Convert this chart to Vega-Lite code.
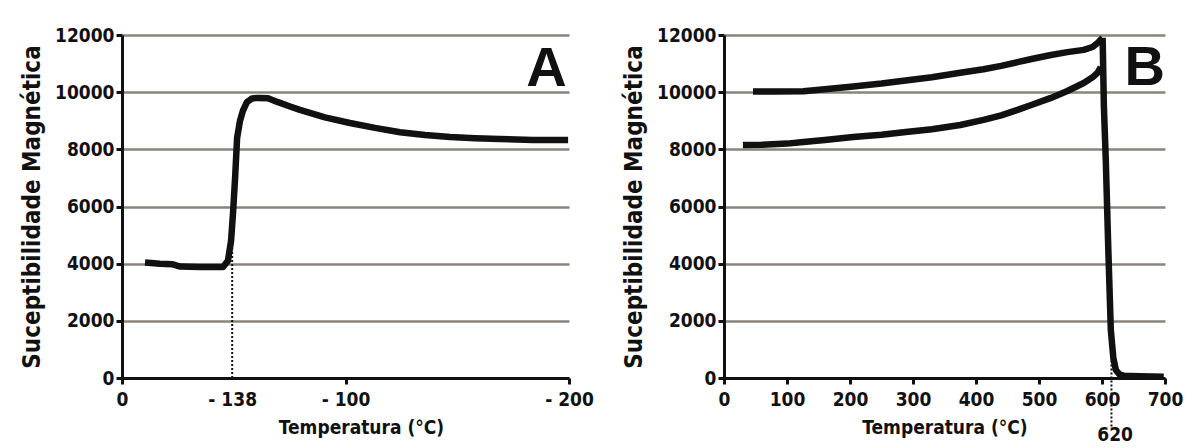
{
  "$schema": "https://vega.github.io/schema/vega-lite/v6.json",
  "background": "white",
  "padding": {"left": 20, "top": 26, "right": 5, "bottom": 5},
  "spacing": 155,
  "bounds": "flush",
  "config": {
    "view": {"stroke": null},
    "axis": {
      "labelFont": "DejaVu Sans Condensed",
      "labelFontWeight": "bold",
      "labelFontSize": 19,
      "labelColor": "#111",
      "titleFont": "DejaVu Sans Condensed",
      "titleFontWeight": "bold",
      "titleFontSize": 24,
      "titleColor": "#111",
      "domainColor": "#111",
      "domainWidth": 3,
      "tickColor": "#111",
      "tickWidth": 3,
      "tickSize": 6,
      "labelPadding": 2,
      "grid": false
    },
    "axisX": {"titleFontSize": 19, "labelPadding": 6}
  },
  "datasets": {
    "a": [
      {"t": 10.3, "k": 4040}, {"t": 17, "k": 4000}, {"t": 22.4, "k": 3980}, {"t": 26, "k": 3900},
      {"t": 35, "k": 3880}, {"t": 45.2, "k": 3880}, {"t": 47.4, "k": 4100}, {"t": 48.8, "k": 4800},
      {"t": 49.7, "k": 5800}, {"t": 50.6, "k": 7000}, {"t": 51.5, "k": 8400}, {"t": 52.8, "k": 9000},
      {"t": 54.1, "k": 9350}, {"t": 55.9, "k": 9650}, {"t": 58.2, "k": 9780}, {"t": 60.9, "k": 9800},
      {"t": 65.3, "k": 9790}, {"t": 69.8, "k": 9650}, {"t": 75.2, "k": 9500}, {"t": 79.6, "k": 9380},
      {"t": 90.8, "k": 9120}, {"t": 102, "k": 8920}, {"t": 113.2, "k": 8750}, {"t": 124.4, "k": 8600},
      {"t": 135.6, "k": 8500}, {"t": 146.8, "k": 8430}, {"t": 158, "k": 8390}, {"t": 169.1, "k": 8360},
      {"t": 183.9, "k": 8330}, {"t": 199.6, "k": 8330}
    ],
    "b": [
      {"run": "heating", "t": 30, "k": 8150}, {"run": "heating", "t": 60, "k": 8160},
      {"run": "heating", "t": 100, "k": 8200}, {"run": "heating", "t": 126, "k": 8260},
      {"run": "heating", "t": 160, "k": 8330}, {"run": "heating", "t": 205, "k": 8430},
      {"run": "heating", "t": 250, "k": 8510}, {"run": "heating", "t": 285, "k": 8600},
      {"run": "heating", "t": 330, "k": 8700}, {"run": "heating", "t": 375, "k": 8850},
      {"run": "heating", "t": 412, "k": 9030}, {"run": "heating", "t": 440, "k": 9190},
      {"run": "heating", "t": 466, "k": 9380}, {"run": "heating", "t": 490, "k": 9570},
      {"run": "heating", "t": 519, "k": 9800}, {"run": "heating", "t": 545, "k": 10040},
      {"run": "heating", "t": 571, "k": 10320}, {"run": "heating", "t": 585, "k": 10520},
      {"run": "heating", "t": 593, "k": 10680}, {"run": "heating", "t": 598, "k": 10880},
      {"run": "cooling", "t": 46, "k": 10020}, {"run": "cooling", "t": 80, "k": 10020},
      {"run": "cooling", "t": 126, "k": 10030}, {"run": "cooling", "t": 160, "k": 10100},
      {"run": "cooling", "t": 205, "k": 10200}, {"run": "cooling", "t": 250, "k": 10300},
      {"run": "cooling", "t": 285, "k": 10400}, {"run": "cooling", "t": 330, "k": 10520},
      {"run": "cooling", "t": 375, "k": 10680}, {"run": "cooling", "t": 412, "k": 10800},
      {"run": "cooling", "t": 440, "k": 10920}, {"run": "cooling", "t": 466, "k": 11050},
      {"run": "cooling", "t": 490, "k": 11170}, {"run": "cooling", "t": 519, "k": 11300},
      {"run": "cooling", "t": 545, "k": 11400}, {"run": "cooling", "t": 571, "k": 11480},
      {"run": "cooling", "t": 585, "k": 11580}, {"run": "cooling", "t": 593, "k": 11720},
      {"run": "cooling", "t": 601, "k": 11900},
      {"run": "drop", "t": 601, "k": 11900}, {"run": "drop", "t": 603, "k": 9500},
      {"run": "drop", "t": 606, "k": 7630}, {"run": "drop", "t": 610, "k": 4500},
      {"run": "drop", "t": 614, "k": 1680}, {"run": "drop", "t": 618, "k": 700},
      {"run": "drop", "t": 622, "k": 280}, {"run": "drop", "t": 628, "k": 120},
      {"run": "drop", "t": 635, "k": 80}, {"run": "drop", "t": 660, "k": 60},
      {"run": "drop", "t": 698, "k": 40}
    ]
  },
  "hconcat": [
    {
      "width": 447,
      "height": 343,
      "layer": [
        {
          "data": {"name": "a"},
          "mark": {"type": "line", "strokeWidth": 6.5, "color": "#111", "strokeJoin": "round"},
          "encoding": {
            "x": {
              "field": "t", "type": "quantitative",
              "scale": {"domain": [0, 200], "nice": false},
              "axis": {
                "values": [0, 49.3, 100, 200],
                "labelExpr": "datum.value == 0 ? '0' : (datum.value == 49.3 ? '- 138' : '- ' + format(datum.value, 'd'))",
                "tickOpacity": {"condition": {"test": "datum.value == 49.3", "value": 0}, "value": 1},
                "labelFlush": false,
                "title": "Temperatura (°C)",
                "titleX": 239,
                "titleAlign": "center",
                "titleY": 49,
                "titleBaseline": "middle"
              }
            },
            "y": {
              "field": "k", "type": "quantitative",
              "scale": {"domain": [0, 12000], "nice": false},
              "axis": {
                "values": [0, 2000, 4000, 6000, 8000, 10000, 12000],
                "format": "d",
                "grid": true,
                "gridColor": "#8b837c",
                "gridWidth": 2.5,
                "title": "Suceptibilidade Magnética",
                "titlePadding": 10
              }
            }
          }
        },
        {
          "data": {"values": [{}]},
          "mark": {"type": "rule", "strokeDash": [2, 2], "strokeWidth": 2, "color": "#111"},
          "encoding": {"x": {"datum": 49.3}, "y": {"datum": 0}, "y2": {"datum": 4700}}
        },
        {
          "data": {"values": [{}]},
          "mark": {"type": "text", "text": "A", "font": "Liberation Sans", "fontWeight": "bold", "fontSize": 56, "align": "right", "baseline": "top", "color": "#111"},
          "encoding": {"x": {"datum": 199}, "y": {"datum": 11750}}
        }
      ]
    },
    {
      "width": 441,
      "height": 343,
      "layer": [
        {
          "data": {"name": "b"},
          "mark": {"type": "line", "color": "#111", "strokeJoin": "round"},
          "encoding": {
            "x": {
              "field": "t", "type": "quantitative",
              "scale": {"domain": [0, 700], "nice": false},
              "axis": {
                "values": [0, 100, 200, 300, 400, 500, 600, 700, 620],
                "format": "d",
                "tickOpacity": {"condition": {"test": "datum.value == 620", "value": 0}, "value": 1},
                "labelPadding": {"condition": {"test": "datum.value == 620", "value": 41}, "value": 6},
                "labelFlush": false,
                "labelOverlap": false,
                "title": "Temperatura (°C)",
                "titleY": 49,
                "titleBaseline": "middle"
              }
            },
            "y": {
              "field": "k", "type": "quantitative",
              "scale": {"domain": [0, 12000], "nice": false},
              "axis": {
                "values": [0, 2000, 4000, 6000, 8000, 10000, 12000],
                "format": "d",
                "grid": true,
                "gridColor": "#8b837c",
                "gridWidth": 2.5,
                "title": "Suceptibilidade Magnética",
                "titlePadding": 10
              }
            },
            "detail": {"field": "run"},
            "strokeWidth": {
              "field": "run", "type": "nominal",
              "scale": {"domain": ["heating", "cooling", "drop"], "range": [6.5, 6.5, 4.5]},
              "legend": null
            }
          }
        },
        {
          "data": {"values": [{}]},
          "mark": {"type": "rule", "strokeDash": [2, 2], "strokeWidth": 2, "color": "#111", "clip": false},
          "encoding": {"x": {"datum": 615}, "y": {"datum": -1700}, "y2": {"datum": 600}}
        },
        {
          "data": {"values": [{}]},
          "mark": {"type": "text", "text": "B", "font": "Liberation Sans", "fontWeight": "bold", "fontSize": 56, "align": "right", "baseline": "top", "color": "#111"},
          "encoding": {"x": {"datum": 700}, "y": {"datum": 11800}}
        }
      ]
    }
  ]
}
